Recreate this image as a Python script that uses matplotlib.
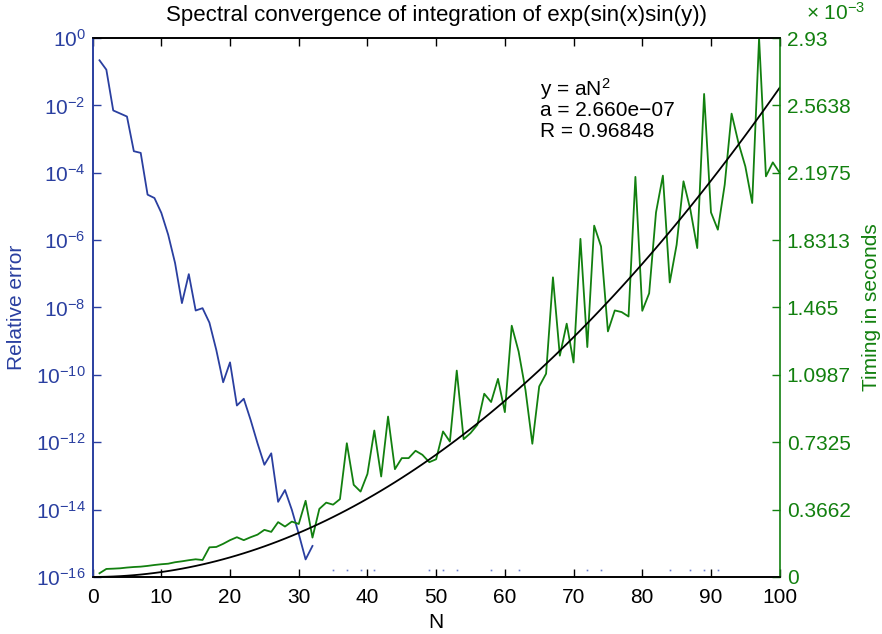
import numpy as np
import matplotlib
matplotlib.use("Agg")
import matplotlib.pyplot as plt
from matplotlib.ticker import FixedLocator, NullLocator

plt.rcParams["font.family"] = ["Liberation Sans", "DejaVu Sans"]
plt.rcParams["mathtext.default"] = "regular"

BLUE = "#2a3fa0"
GREEN = "#12800f"

# ---- data ----
n_err = np.arange(1, 33)
log_err = [-0.66, -0.94, -2.15, -2.24, -2.33, -3.36, -3.41, -4.65, -4.75, -5.19,
           -5.84, -6.68, -7.87, -7.01, -8.09, -8.02, -8.45, -9.26, -10.22, -9.63,
           -10.91, -10.71, -11.34, -12.03, -12.67, -12.33, -13.77, -13.42, -14.01, -14.72,
           -15.48, -15.08]
rel_err = 10.0 ** np.array(log_err)

# isolated eps-level errors beyond N=32
n_eps = [35, 37, 39, 41, 49, 51, 53, 58, 62, 72, 74, 84, 87, 89, 91]
eps_err = [1.66e-16] * len(n_eps)

n_time = np.arange(1, 101)
timing_ms = [0.020, 0.0435, 0.045, 0.047, 0.051, 0.054, 0.056, 0.060, 0.065, 0.069,
             0.072, 0.080, 0.085, 0.091, 0.096, 0.092, 0.161, 0.163, 0.180, 0.200,
             0.216, 0.200, 0.216, 0.230, 0.256, 0.245, 0.298, 0.274, 0.301, 0.288,
             0.414, 0.214, 0.370, 0.404, 0.393, 0.423, 0.727, 0.501, 0.464, 0.560,
             0.796, 0.546, 0.872, 0.586, 0.646, 0.646, 0.686, 0.664, 0.624, 0.640,
             0.791, 0.736, 1.122, 0.749, 0.782, 0.827, 0.996, 0.951, 1.077, 0.896,
             1.366, 1.226, 1.017, 0.724, 1.036, 1.105, 1.629, 1.203, 1.377, 1.166,
             1.838, 1.250, 1.910, 1.797, 1.335, 1.449, 1.440, 1.416, 2.175, 1.447,
             1.542, 1.982, 2.182, 1.601, 1.806, 2.151, 1.997, 1.788, 2.626, 1.982,
             1.888, 2.133, 2.519, 2.360, 2.232, 2.033, 2.930, 2.178, 2.254, 2.197]
timing = np.array(timing_ms) * 1e-3

fit_a = 2.660e-07
fit_r = 0.96848

right_ticks = [0, 0.3662, 0.7325, 1.0987, 1.465, 1.8313, 2.1975, 2.5638, 2.93]

FS = 15

# ---- plot ----
fig = plt.figure(figsize=(8.82, 6.34), dpi=100)
ax = fig.add_axes([0.105, 0.090, 0.779, 0.850])
ax2 = ax.twinx()

ax.semilogy(n_err, rel_err, color=BLUE, lw=1.3)
ax.plot(n_eps, eps_err, ls="none", marker="s", ms=1.2, color="#6b7fd0", mec="none")
ax.set_xlim(0, 100)
ax.set_ylim(1e-16, 1)
ax.yaxis.set_major_locator(FixedLocator([10.0 ** k for k in range(-16, 1, 2)]))
ax.yaxis.set_minor_locator(NullLocator())
ax.set_yticklabels(["$10^{%d}$" % k for k in range(-16, 1, 2)])
ax.set_xticks(range(0, 101, 10))

ax2.plot(n_time, timing, color=GREEN, lw=1.3)
ax2.plot(n_time, fit_a * n_time ** 2, color="black", lw=1.3)
ax2.set_ylim(0, 2.93e-3)
ax2.set_yticks(np.array(right_ticks) * 1e-3)
ax2.set_yticklabels(["%g" % t for t in right_ticks])

for a in (ax, ax2):
    a.tick_params(direction="in", length=6, width=1, labelsize=FS, pad=5)
ax.tick_params(axis="x", top=True, colors="black", pad=8)
ax.tick_params(axis="y", colors=BLUE, which="both")
ax2.tick_params(axis="y", colors=GREEN)
ax.spines["left"].set_color(BLUE)
ax2.spines["left"].set_color(BLUE)
ax2.spines["right"].set_color(GREEN)
ax.spines["right"].set_visible(False)
for a in (ax, ax2):
    a.spines["top"].set_color("black")
    a.spines["bottom"].set_color("black")
    for s in a.spines.values():
        s.set_linewidth(1.2)

ax.set_xlabel("N", fontsize=FS, labelpad=4)
ax.set_ylabel("Relative error", fontsize=FS, color=BLUE, labelpad=7)
ax2.set_ylabel("Timing in seconds", fontsize=FS, color=GREEN, labelpad=8)
ax.set_title("Spectral convergence of integration of exp(sin(x)sin(y))", fontsize=16, pad=12)

fig.text(0.914, 0.962, "\u00d7 $10^{-3}$", color=GREEN, fontsize=FS, ha="left", va="bottom")

tx = 0.651
ax.text(tx, 0.905, "y = aN$^2$", transform=ax.transAxes, fontsize=FS, va="center")
ax.text(tx, 0.866, ("a = %.3e" % fit_a).replace("-", "\u2212"), transform=ax.transAxes,
        fontsize=FS, va="center")
ax.text(tx, 0.827, "R = %.5f" % fit_r, transform=ax.transAxes, fontsize=FS, va="center")

fig.savefig("out.png", dpi=100)
